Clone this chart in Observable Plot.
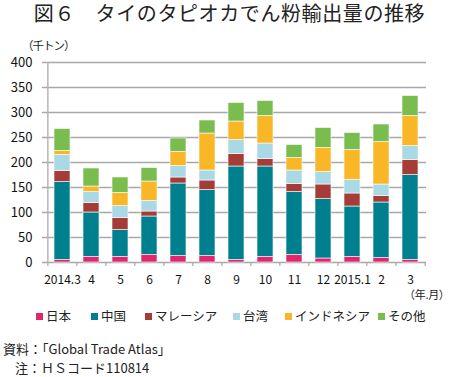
<!DOCTYPE html>
<html><head><meta charset="utf-8">
<script src="https://cdn.jsdelivr.net/npm/d3@7"></script>
<script src="https://cdn.jsdelivr.net/npm/@observablehq/plot@0.6"></script>
<style>
body{margin:0;background:#fff;font-family:"Noto Sans CJK JP","Noto Sans",sans-serif;color:#222;}
#wrap{position:relative;width:450px;height:377px;}
.abs{position:absolute;white-space:nowrap;line-height:1.2;}
#title{left:0;width:450px;text-align:center;top:1px;font-size:20px;letter-spacing:0.6px;padding-left:9px;box-sizing:border-box;}
#unit{left:22px;top:39px;font-size:11.5px;letter-spacing:-1px;}
#ym{left:404px;top:288px;font-size:11px;letter-spacing:-0.3px;}
#legend{left:36px;top:308px;font-size:12.5px;}
.li{position:absolute;top:0;}
.sw{display:inline-block;width:7px;height:7px;margin-right:3px;vertical-align:1px;}
#src{left:3px;top:341px;font-size:13px;}
#note{left:15px;top:360px;font-size:13px;}
#chart{position:absolute;left:0;top:0;}
</style>
</head><body>
<div id="wrap">
  <div id="chart"></div>
  <div class="abs" id="title">図６　タイのタピオカでん粉輸出量の推移</div>
  <div class="abs" id="unit">（千トン）</div>
  <div class="abs" id="ym">（年.月）</div>
  <div class="abs" id="legend"></div>
  <div class="abs" id="src">資料：「Global Trade Atlas」</div>
  <div class="abs" id="note">注：ＨＳコード110814</div>
</div>
<script>
const months = ["2014.3","4","5","6","7","8","9","10","11","12","2015.1","2","3"];
const japan     = [5,11,11,15,13,13,5,11,15,8,11,9,5];
const china     = [156,89,54,77,145,132,187,181,126,119,101,111,170];
const malaysia  = [22,19,24,10,12,19,25,15,16,29,26,13,30];
const taiwan    = [32,22,24,21,23,20,28,31,27,25,27,23,28];
const indonesia = [8,11,26,39,28,74,37,55,25,48,60,85,60];
const other     = [44,36,31,27,27,26,37,30,26,40,34,35,40];
const seriesNames = ["日本","中国","マレーシア","台湾","インドネシア","その他"];
const seriesValues = [japan, china, malaysia, taiwan, indonesia, other];
const colors = ["#e2266e","#00808f","#a63c38","#a9d9e5","#f9b626","#79bd4f"];
const yTicks = [0,50,100,150,200,250,300,350,400];

const data = [];
seriesNames.forEach((s, i) => months.forEach((m, j) => data.push({month: m, series: s, value: seriesValues[i][j]})));

const W = 450, ML = 45, MR = 24;
const step = (W - ML - MR) / months.length;

const chart = Plot.plot({
  width: W, height: 300,
  marginTop: 62, marginBottom: 38, marginLeft: ML, marginRight: MR,
  style: {fontFamily: '"Noto Sans CJK JP","Noto Sans",sans-serif', color: "#111"},
  x: {domain: months, paddingInner: 0.45, paddingOuter: 0.225, axis: null, label: null},
  y: {domain: [0, 400], axis: null, label: null},
  color: {domain: seriesNames, range: colors},
  marks: [
    Plot.ruleY(yTicks, {stroke: "#a8a8a8", strokeWidth: 1.5, insetLeft: -3}),
    Plot.ruleX([months[0]], {x: d => d, dx: -step / 2, y1: -8, y2: 400, stroke: "#b5b5b5", strokeWidth: 1.5}),
    Plot.ruleX(months.slice(1), {x: d => d, dx: -step / 2, y1: -8, y2: 0, stroke: "#a8a8a8", strokeWidth: 1.2}),
    Plot.ruleX([months[months.length - 1]], {x: d => d, dx: step / 2, y1: -8, y2: 0, stroke: "#a8a8a8", strokeWidth: 1.2}),
    Plot.barY(data, Plot.stackY({order: seriesNames}, {x: "month", y: "value", fill: "series", stroke: "white", strokeWidth: 0.8, strokeOpacity: 0.75})),
    Plot.axisY(yTicks, {tickSize: 0, tickPadding: 13, fontSize: 13, fill: "#111", label: null}),
    Plot.axisX({tickSize: 0, tickPadding: 13, fontSize: 12, fill: "#111", label: null})
  ]
});
document.getElementById("chart").appendChild(chart);

const lx = [0, 55, 109, 197, 249, 342];
const legend = document.getElementById("legend");
seriesNames.forEach((s, i) => {
  const el = document.createElement("span");
  el.className = "li";
  el.style.left = lx[i] + "px";
  el.innerHTML = `<span class="sw" style="background:${colors[i]}"></span>${s}`;
  legend.appendChild(el);
});
</script>
</body></html>
